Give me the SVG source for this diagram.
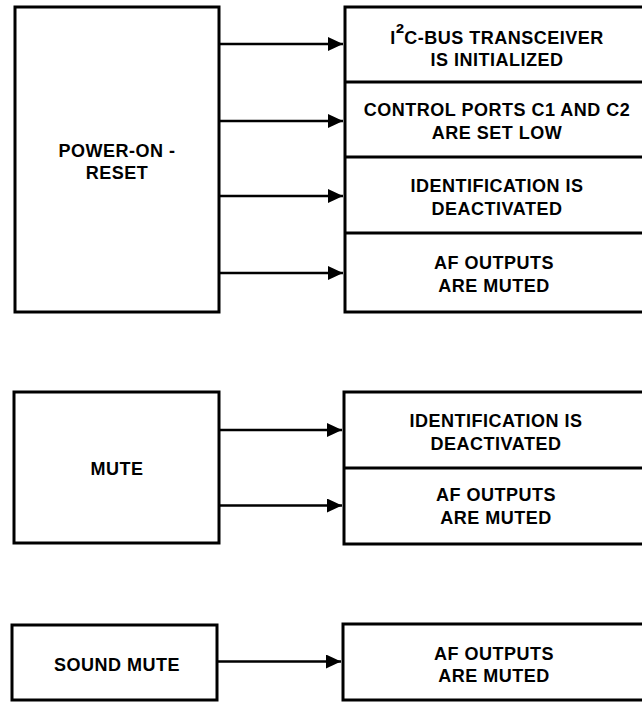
<svg xmlns="http://www.w3.org/2000/svg" width="642" height="702" viewBox="0 0 642 702">
<defs>
<marker id="ah" markerUnits="userSpaceOnUse" markerWidth="16" markerHeight="16" refX="15" refY="7" orient="auto">
<path d="M0,0 L15,7 L0,14 Z" fill="#000"/>
</marker>
<style>
.box{fill:#fff;stroke:#000;stroke-width:3}
.div{stroke:#000;stroke-width:3}
.t{font-family:"Liberation Sans",Arial,sans-serif;font-weight:bold;font-size:18px;letter-spacing:0.5px;fill:#000;text-anchor:middle}
.sup{font-size:25px;letter-spacing:0}
.c{stroke:#000;stroke-width:2.5;fill:none;marker-end:url(#ah)}
</style>
</defs>
<rect width="642" height="702" fill="#fff"/>
<g id="power-on-reset">
<rect class="box" x="15" y="7" width="204" height="305"/>
<text class="t" x="117" y="157">POWER-ON -</text>
<text class="t" x="117" y="179">RESET</text>
</g>
<g id="por-results">
<rect class="box" x="345" y="7" width="310" height="305"/>
<line class="div" x1="345" y1="82" x2="645" y2="82"/>
<line class="div" x1="345" y1="157" x2="645" y2="157"/>
<line class="div" x1="345" y1="233" x2="645" y2="233"/>
<text class="t" x="497" y="43.5">I<tspan class="sup" dy="-2">²</tspan><tspan dy="2">C-BUS TRANSCEIVER</tspan></text>
<text class="t" x="497" y="65.5">IS INITIALIZED</text>
<text class="t" x="497" y="116">CONTROL PORTS C1 AND C2</text>
<text class="t" x="497" y="139">ARE SET LOW</text>
<text class="t" x="497" y="192">IDENTIFICATION IS</text>
<text class="t" x="497" y="215">DEACTIVATED</text>
<text class="t" x="494" y="269">AF OUTPUTS</text>
<text class="t" x="494" y="292">ARE MUTED</text>
</g>
<g id="mute">
<rect class="box" x="14" y="392" width="205" height="151"/>
<text class="t" x="117" y="475">MUTE</text>
</g>
<g id="mute-results">
<rect class="box" x="344" y="392" width="310" height="152"/>
<line class="div" x1="344" y1="468" x2="645" y2="468"/>
<text class="t" x="496" y="426.5">IDENTIFICATION IS</text>
<text class="t" x="496" y="449.5">DEACTIVATED</text>
<text class="t" x="496" y="501">AF OUTPUTS</text>
<text class="t" x="496" y="523.5">ARE MUTED</text>
</g>
<g id="sound-mute">
<rect class="box" x="12" y="625" width="205" height="75"/>
<text class="t" x="117" y="671">SOUND MUTE</text>
</g>
<g id="sound-mute-result">
<rect class="box" x="343" y="624" width="310" height="76"/>
<text class="t" x="494" y="660">AF OUTPUTS</text>
<text class="t" x="494" y="682">ARE MUTED</text>
</g>
<g id="connectors">
<line class="c" x1="219" y1="44" x2="343" y2="44"/>
<line class="c" x1="219" y1="121" x2="343" y2="121"/>
<line class="c" x1="219" y1="196" x2="343" y2="196"/>
<line class="c" x1="219" y1="273" x2="343" y2="273"/>
<line class="c" x1="219" y1="430" x2="342" y2="430"/>
<line class="c" x1="219" y1="505.5" x2="342" y2="505.5"/>
<line class="c" x1="217" y1="661.5" x2="341" y2="661.5"/>
</g>
</svg>
